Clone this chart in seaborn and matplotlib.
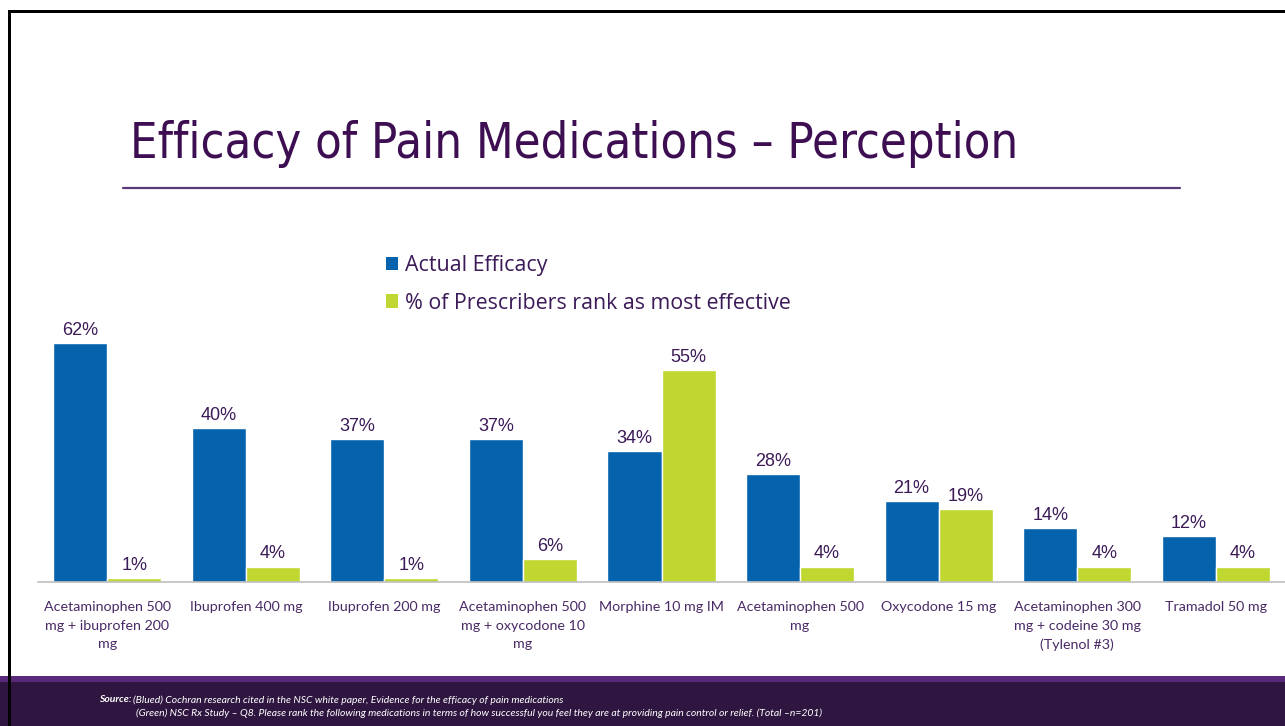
import pandas as pd
import seaborn as sns
import matplotlib.pyplot as plt
from matplotlib.patches import Rectangle, Patch
from matplotlib.lines import Line2D

# data
medications = [
    "Acetaminophen 500\nmg + ibuprofen 200\nmg",
    "Ibuprofen 400 mg",
    "Ibuprofen 200 mg",
    "Acetaminophen 500\nmg + oxycodone 10\nmg",
    "Morphine 10 mg IM",
    "Acetaminophen 500\nmg",
    "Oxycodone 15 mg",
    "Acetaminophen 300\nmg + codeine 30 mg\n(Tylenol #3)",
    "Tramadol 50 mg",
]
actual_efficacy = [62, 40, 37, 37, 34, 28, 21, 14, 12]
prescriber_rank = [1, 4, 1, 6, 55, 4, 19, 4, 4]
series_names = ["Actual Efficacy", "% of Prescribers rank as most effective"]

df = pd.DataFrame({
    "medication": medications * 2,
    "value": actual_efficacy + prescriber_rank,
    "series": [series_names[0]] * len(medications) + [series_names[1]] * len(medications),
})

blue = "#0563ae"
green = "#bfd730"
purple_text = "#3b1a57"
palette = {series_names[0]: blue, series_names[1]: green}

sns.set_style("white")
plt.rcParams["font.family"] = ["Liberation Sans", "DejaVu Sans"]

W, H = 1285, 726
fig = plt.figure(figsize=(W / 100, H / 100), dpi=100)
fig.patch.set_facecolor("white")

# plot area: baseline at y=582 px, 3.855 px per percent
ymax = 68
ax_h = ymax * 3.855
ax = fig.add_axes([38 / W, (H - 582) / H, 1247 / W, ax_h / H])

sns.barplot(data=df, x="medication", y="value", hue="series",
            palette=palette, width=0.78, gap=0, saturation=1,
            order=medications, hue_order=series_names, ax=ax)

ax.set_ylim(0, ymax)
ax.set_xlim(-0.5, len(medications) - 0.5)
ax.set_xlabel("")
ax.set_ylabel("")
ax.set_yticks([])
for s in ["top", "right", "left"]:
    ax.spines[s].set_visible(False)
ax.spines["bottom"].set_color("#bfbfbf")
ax.spines["bottom"].set_linewidth(1.2)

ax.set_xticks(range(len(medications)))
ax.set_xticklabels(medications, fontsize=10.3, color="#4a2a66",
                   family=["Lato", "DejaVu Sans"], linespacing=1.62)
ax.tick_params(axis="x", which="major", length=0, pad=14)
ax.set_xticks([i - 0.5 for i in range(len(medications) + 1)], minor=True)
ax.tick_params(axis="x", which="minor", length=5, color="#bfbfbf", width=1)

for cont in ax.containers:
    ax.bar_label(cont, fmt="%g%%", padding=3, fontsize=13, color=purple_text)

handles = [Patch(facecolor=palette[n], edgecolor="none") for n in series_names]
ax.legend(handles, series_names, loc="upper left",
          bbox_to_anchor=(386 / W, 1 - 255 / H), bbox_transform=fig.transFigure,
          frameon=False, handlelength=0.58, handleheight=0.58,
          handletextpad=0.3, labelspacing=0.78, borderpad=0, borderaxespad=0,
          prop={"family": ["Open Sans", "DejaVu Sans"], "size": 15.4},
          labelcolor=purple_text)

# title and rule
fig.text(130 / W, 1 - 158 / H, "Efficacy of Pain Medications \u2013 Perception",
         fontsize=35, color="#3d0f52", va="baseline", ha="left",
         family="DejaVu Sans", stretch="condensed", weight="light")
fig.add_artist(Line2D([123 / W, 1180 / W], [1 - 188 / H, 1 - 188 / H],
                      color="#5b3a78", linewidth=1.6))

# footer band
fig.add_artist(Rectangle((0, 0), 1, 50 / H, transform=fig.transFigure,
                         facecolor="#5a2a7a", edgecolor="none"))
fig.add_artist(Rectangle((0, 0), 1, 44 / H, transform=fig.transFigure,
                         facecolor="#2e1640", edgecolor="none"))
foot = dict(fontsize=7.45, color="white", style="italic", va="center",
            family=["Lato", "DejaVu Sans"])
fig.text(99 / W, 1 - 700 / H, "Source:", weight="bold", **foot)
fig.text(133 / W, 1 - 700 / H,
         "(Blued) Cochran research cited in the NSC white paper, Evidence for the efficacy of pain medications",
         **foot)
fig.text(136 / W, 1 - 713 / H,
         "(Green) NSC Rx Study \u2013 Q8. Please rank the following medications in terms of how successful you feel they are at providing pain control or relief. (Total \u2013n=201)",
         **foot)

# slide frame (top and left black edges)
fig.add_artist(Rectangle((8 / W, 0), 3 / W, 1 - 10 / H, transform=fig.transFigure,
                         facecolor="black", edgecolor="none"))
fig.add_artist(Rectangle((8 / W, 1 - 13 / H), 1, 3 / H, transform=fig.transFigure,
                         facecolor="black", edgecolor="none"))

fig.savefig("out.png", dpi=100)
